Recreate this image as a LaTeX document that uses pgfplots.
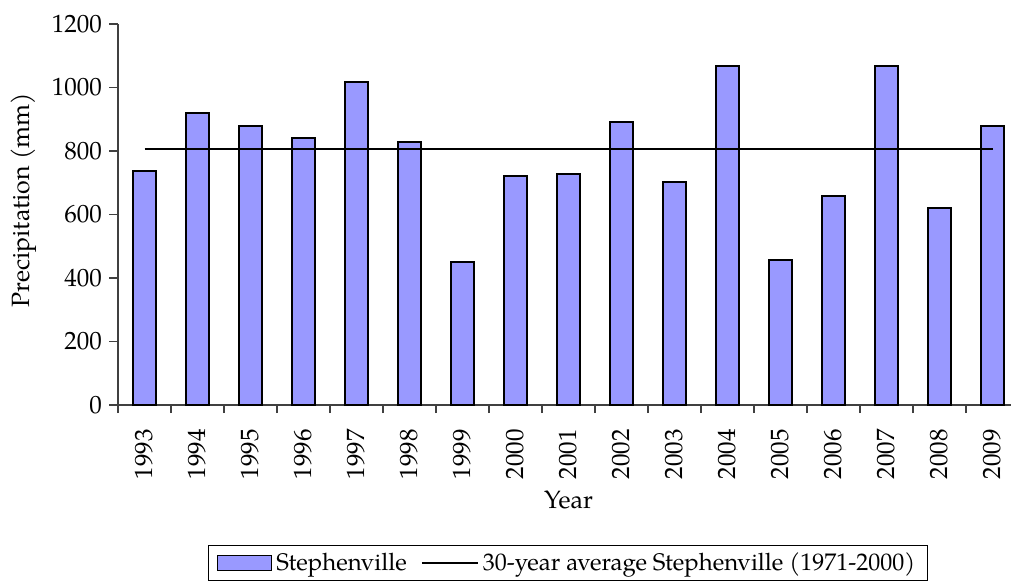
\documentclass[border=0pt]{standalone}
\usepackage{fontspec}
\setmainfont{TeX Gyre Pagella}
\usepackage{pgfplots}
\pgfplotsset{compat=1.18}
\definecolor{barfill}{HTML}{9999FF}
\definecolor{axgray}{HTML}{404040}
\begin{document}
\begin{tikzpicture}
\begin{axis}[
  at={(59pt,89.5pt)}, anchor=south west,
  scale only axis, width=450.5pt, height=190.5pt,
  font=\fontsize{12.5}{14}\selectfont,
  /pgf/number format/assume math mode=true,
  /pgf/number format/1000 sep={},
  axis x line*=bottom, axis y line*=left,
  axis line style={axgray, line width=0.7pt},
  xmin=-0.5, xmax=16.5, ymin=0, ymax=1200,
  ytick={0,200,...,1200},
  xtick={0,...,16},
  xticklabels={1993,1994,1995,1996,1997,1998,1999,2000,2001,2002,2003,2004,2005,2006,2007,2008,2009},
  xticklabel style={rotate=90, anchor=east},
  xticklabel shift=4pt,
  major x tick style={draw=none},
  minor xtick={-0.5,0.5,...,16.5},
  minor x tick style={axgray, line width=0.6pt},
  minor tick length=4pt,
  major tick length=4.5pt,
  ytick style={axgray, line width=0.6pt},
  tick align=outside,
  xlabel={Year},
  xlabel style={at={(axis description cs:0.5,-0.249)}, anchor=center},
  ylabel={Precipitation (mm)},
  ylabel style={at={(axis description cs:-0.1043,0.538)}, anchor=center, rotate=0},
  legend columns=2,
  legend style={at={(axis description cs:0.4995,-0.4147)}, anchor=center,
    draw=black, line width=0.6pt, inner xsep=4pt, inner ysep=1.5pt,
    font=\fontsize{12}{14}\selectfont,
    nodes={inner xsep=2pt},
    /tikz/every even column/.append style={column sep=5pt}},
]
\addplot[ybar, bar width=0.44, fill=barfill, draw=black, line width=0.8pt,
  legend image code/.code={\draw[fill=barfill, draw=black, line width=0.8pt] (0pt,-3.7pt) rectangle (27pt,3.7pt);}]
  coordinates {
  (0,737) (1,920) (2,879) (3,841) (4,1017) (5,828) (6,450) (7,721) (8,728)
  (9,891) (10,702) (11,1068) (12,457) (13,658) (14,1068) (15,620) (16,879)};
\addlegendentry{Stephenville}
\addplot[black, line width=1pt, mark=none,
  legend image code/.code={\draw[black, line width=1pt] (0pt,0pt) -- (28pt,0pt);}]
  coordinates {(0,805) (16,805)};
\addlegendentry{30-year average Stephenville (1971-2000)}
\end{axis}
\pgfresetboundingbox
\useasboundingbox (0pt,0pt) rectangle (505.5pt,292pt);
\end{tikzpicture}
\end{document}
